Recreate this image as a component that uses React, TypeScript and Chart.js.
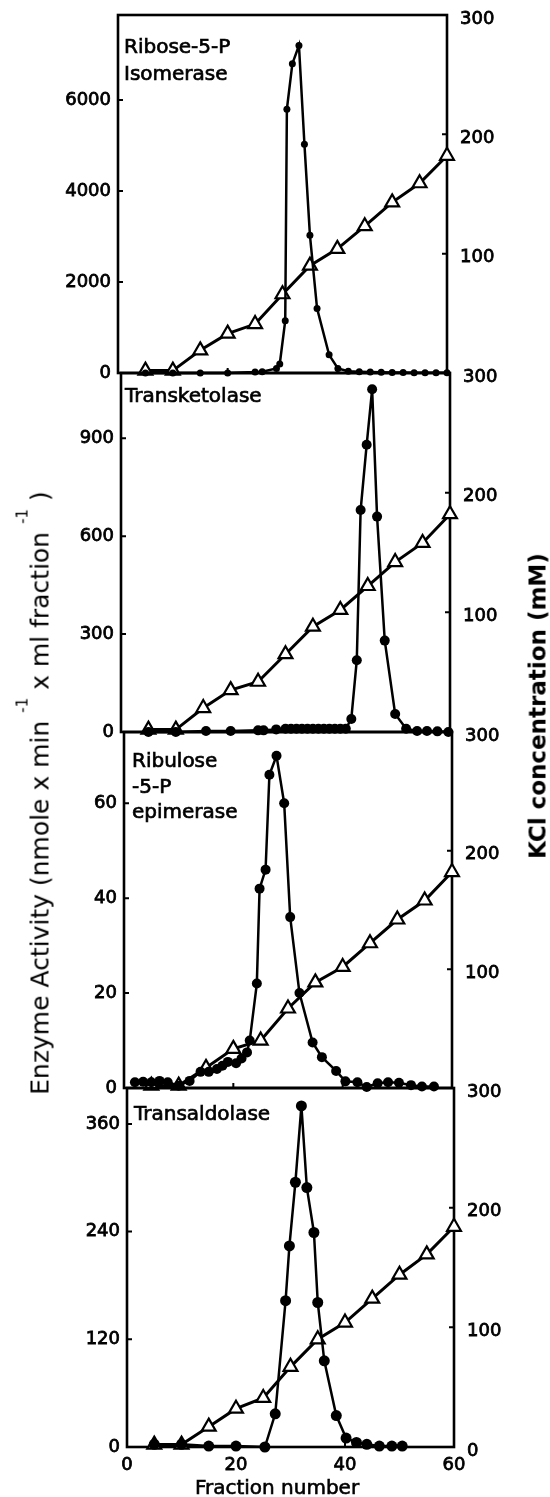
import React, { useEffect, useRef } from "react";
import { Chart, registerables } from "chart.js";

Chart.register(...registerables);

// ---------------- data ----------------
const FRACTION_TICKS = [0, 20, 40, 60];
const KCL_TICKS = [100, 200, 300];
const KCL_TICKS_LAST = [0, 100, 200, 300];

const KCL_FRACTIONS = [5, 10, 15, 20, 25, 30, 35, 40, 45, 50, 55, 60];
const KCL_ISOMERASE = [2, 2, 19, 33, 41, 66, 90, 104, 123, 143, 159, 182];
const KCL_TRANSKETOLASE = [2, 2, 20, 35, 42, 65, 88, 102, 122, 142, 158, 182];
const KCL_EPIMERASE = [2, 2, 17, 33, 40, 67, 89, 102, 122, 142, 158, 182];
const KCL_TRANSALDOLASE = [2, 2, 17, 32, 41, 67, 90, 104, 124, 144, 161, 184];

const ISOMERASE_FRACTIONS = [5, 10, 15, 20, 25, 26.3, 28.9, 29.5, 30.5, 30.8, 31.8, 33, 34, 35, 36.3, 38.5, 40.1, 42, 44, 46, 48, 50, 52, 54, 56, 58, 60];
const ISOMERASE_ACTIVITY = [0, 0, 0, 0, 20, 30, 100, 200, 1150, 5800, 6800, 7200, 5030, 3030, 1420, 400, 100, 40, 30, 20, 15, 10, 10, 5, 5, 5, 5];
const ISOMERASE_TICKS = [0, 2000, 4000, 6000];
const ISOMERASE_LABEL = ["Ribose-5-P", "Isomerase"];

const TRANSKETOLASE_FRACTIONS = [5, 10, 15.5, 20, 25, 26, 28.3, 30, 31, 32, 33, 34, 35, 36, 37, 38, 39, 40, 41, 42, 43, 43.7, 44.8, 45.8, 46.7, 48.1, 50, 52, 54, 55.8, 57.7, 59.7];
const TRANSKETOLASE_ACTIVITY = [0, 0, 3, 3, 5, 5, 8, 10, 10, 10, 10, 10, 10, 10, 10, 10, 10, 10, 10, 40, 220, 680, 880, 1050, 660, 280, 55, 10, 3, 3, 2, 0];
const TRANSKETOLASE_TICKS = [0, 300, 600, 900];
const TRANSKETOLASE_LABEL = ["Transketolase"];

const EPIMERASE_FRACTIONS = [2, 3.5, 5, 6.5, 8, 10, 12, 14, 15.5, 17, 18, 19, 20.5, 21.5, 22.5, 23, 24.3, 24.8, 25.9, 26.6, 27.9, 29.3, 30.4, 32.1, 34.5, 36.2, 38.8, 40.5, 42.7, 44.4, 46.4, 48.3, 50.3, 52.5, 54.5, 56.7];
const EPIMERASE_ACTIVITY = [1.2, 1.3, 1.2, 1.5, 1.2, 0.5, 1.5, 3.4, 3.4, 4, 4.7, 5.5, 5.2, 6.2, 7.5, 10, 22, 42, 46, 66, 70, 60, 36, 20, 9.6, 6.5, 3.6, 1.4, 1.2, 0.2, 1, 1.2, 1.1, 0.6, 0.3, 0.3];
const EPIMERASE_TICKS = [0, 20, 40, 60];
const EPIMERASE_LABEL = ["Ribulose", "-5-P", "epimerase"];

const TRANSALDOLASE_FRACTIONS = [5, 10, 15, 20, 25.3, 27.2, 29.1, 29.8, 30.9, 32, 33, 34.3, 35, 36.2, 38.4, 40.2, 42.1, 44, 46.3, 48.6, 50.5];
const TRANSALDOLASE_ACTIVITY = [3, 3, 1, 1, 0, 37, 163, 224, 295, 380, 289, 239, 161, 96, 35, 10, 5, 3, 1, 1, 1];
const TRANSALDOLASE_TICKS = [0, 120, 240, 360];
const TRANSALDOLASE_LABEL = ["Transaldolase"];

// ---------------- layout ----------------
const W = 550;
const H = 1497;
const PAD = 30;
const FONT = "'DejaVu Sans', sans-serif";

const PANELS = [
  { fx: ISOMERASE_FRACTIONS, fy: ISOMERASE_ACTIVITY, kcl: KCL_ISOMERASE, ticks: ISOMERASE_TICKS, max: 7870, label: ISOMERASE_LABEL,
    top: 15, bottom: 373, left: 118, right: 447, lx: 6, ly: [38, 65], r: 3.5 },
  { fx: TRANSKETOLASE_FRACTIONS, fy: TRANSKETOLASE_ACTIVITY, kcl: KCL_TRANSKETOLASE, ticks: TRANSKETOLASE_TICKS, max: 1100, label: TRANSKETOLASE_LABEL,
    top: 373, bottom: 732, left: 121, right: 450, lx: 4, ly: [29], r: 5 },
  { fx: EPIMERASE_FRACTIONS, fy: EPIMERASE_ACTIVITY, kcl: KCL_EPIMERASE, ticks: EPIMERASE_TICKS, max: 75, label: EPIMERASE_LABEL,
    top: 732, bottom: 1088, left: 124, right: 452, lx: 8, ly: [35, 61, 86], r: 5 },
  { fx: TRANSALDOLASE_FRACTIONS, fy: TRANSALDOLASE_ACTIVITY, kcl: KCL_TRANSALDOLASE, ticks: TRANSALDOLASE_TICKS, max: 400, label: TRANSALDOLASE_LABEL,
    top: 1088, bottom: 1447, left: 127, right: 454, lx: 7, ly: [32], r: 5.5 },
];

const toXY = (xs: number[], ys: number[]) => xs.map((x, i) => ({ x, y: ys[i] }));

function makePlugin(p: any) {
  return {
    id: "frameAndLabel",
    beforeDatasetsDraw(chart: any) {
      const { ctx, chartArea: a, scales } = chart;
      ctx.save();
      ctx.strokeStyle = "#000";
      ctx.lineWidth = 2.6;
      ctx.strokeRect(a.left, a.top, a.right - a.left, a.bottom - a.top);
      ctx.lineWidth = 2;
      ctx.beginPath();
      for (const t of scales.yL.ticks) {
        const y = scales.yL.getPixelForValue(t.value);
        ctx.moveTo(a.left, y);
        ctx.lineTo(a.left + 5, y);
      }
      for (const t of scales.yR.ticks) {
        const y = scales.yR.getPixelForValue(t.value);
        ctx.moveTo(a.right, y);
        ctx.lineTo(a.right - 5, y);
      }
      for (const v of FRACTION_TICKS) {
        const x = scales.x.getPixelForValue(v);
        ctx.moveTo(x, a.bottom);
        ctx.lineTo(x, a.bottom - 5);
      }
      ctx.stroke();
      ctx.fillStyle = "#000";
      ctx.font = `20px ${FONT}`;
      ctx.textAlign = "left";
      ctx.textBaseline = "alphabetic";
      ctx.lineWidth = 0.7;
      p.label.forEach((line: string, i: number) => {
        ctx.fillText(line, a.left + p.lx, a.top + p.ly[i]);
        ctx.strokeText(line, a.left + p.lx, a.top + p.ly[i]);
      });
      ctx.restore();
    },
  };
}

function Panel({ p, last }: { p: any; last: boolean }) {
  const ref = useRef<HTMLCanvasElement>(null);
  const canvasTop = p.top - PAD;
  const canvasH = last ? H - canvasTop : p.bottom - p.top + 2 * PAD;

  useEffect(() => {
    const tickFont = { family: FONT, size: 18 };
    const tickBase = { font: tickFont, color: "#000", textStrokeColor: "#000", textStrokeWidth: 0.8 };
    const chart = new Chart(ref.current as HTMLCanvasElement, {
      type: "line",
      data: {
        datasets: [
          {
            label: "KCl",
            data: toXY(KCL_FRACTIONS, p.kcl),
            yAxisID: "yR",
            borderColor: "#000",
            borderWidth: 3,
            pointStyle: "triangle",
            pointRadius: 8,
            pointBackgroundColor: "#fff",
            pointBorderColor: "#000",
            pointBorderWidth: 2.2,
            order: 1,
            clip: false,
          },
          {
            label: "Activity",
            data: toXY(p.fx, p.fy),
            yAxisID: "yL",
            borderColor: "#000",
            borderWidth: 2.5,
            pointStyle: "circle",
            pointRadius: p.r,
            pointBackgroundColor: "#000",
            pointBorderColor: "#000",
            pointBorderWidth: 0,
            order: 0,
            clip: false,
          },
        ],
      } as any,
      options: {
        responsive: false,
        animation: false,
        devicePixelRatio: 1,
        events: [],
        layout: { padding: { top: PAD, bottom: last ? 0 : PAD, left: 0, right: 0 } },
        plugins: { legend: { display: false }, tooltip: { enabled: false } },
        scales: {
          x: {
            type: "linear",
            min: 0,
            max: 60,
            display: last,
            grid: { display: false, drawTicks: false },
            border: { display: false },
            ticks: { ...tickBase, padding: 8, maxRotation: 0, autoSkip: false, callback: (v: any) => String(v) },
            afterBuildTicks: (s: any) => { s.ticks = FRACTION_TICKS.map((v) => ({ value: v })); },
            afterFit: (s: any) => { s.height = last ? H - p.bottom : 0; },
          },
          yL: {
            type: "linear",
            position: "left",
            min: 0,
            max: p.max,
            grid: { display: false, drawTicks: false },
            border: { display: false },
            ticks: { ...tickBase, padding: 7, callback: (v: any) => String(v) },
            afterBuildTicks: (s: any) => { s.ticks = p.ticks.map((v: number) => ({ value: v })); },
            afterFit: (s: any) => { s.width = p.left; },
          },
          yR: {
            type: "linear",
            position: "right",
            min: 0,
            max: 300,
            grid: { display: false, drawTicks: false },
            border: { display: false },
            ticks: { ...tickBase, padding: 13, labelOffset: 4, callback: (v: any) => String(v) },
            afterBuildTicks: (s: any) => { s.ticks = (last ? KCL_TICKS_LAST : KCL_TICKS).map((v) => ({ value: v })); },
            afterFit: (s: any) => { s.width = W - p.right; },
          },
        },
      } as any,
      plugins: [makePlugin(p)],
    });
    return () => chart.destroy();
  }, []);

  return (
    <canvas
      ref={ref}
      width={W}
      height={canvasH}
      style={{ position: "absolute", left: 0, top: canvasTop, width: W, height: canvasH }}
    />
  );
}

export default function App() {
  const rot = (cx: number, cy: number): React.CSSProperties => ({
    position: "absolute",
    left: cx,
    top: cy,
    transform: "translate(-50%, -50%) rotate(-90deg)",
    whiteSpace: "nowrap",
    lineHeight: 1,
    color: "#000",
    fontFamily: FONT,
  });
  const sup: React.CSSProperties = { fontSize: 15, position: "relative", top: -21 };
  return (
    <div style={{ position: "absolute", left: 0, top: 0, width: W, height: H, background: "#fff", overflow: "hidden" }}>
      {PANELS.map((p, i) => (
        <Panel key={i} p={p} last={i === PANELS.length - 1} />
      ))}
      <div style={{ ...rot(40, 793), fontSize: 25 }}>
        Enzyme Activity (nmole x min <span style={sup}>-1</span> x ml fraction <span style={sup}>-1</span> )
      </div>
      <div style={{ ...rot(538, 706), fontSize: 23, fontWeight: "bold" }}>KCl concentration (mM)</div>
      <div
        style={{
          position: "absolute",
          left: 277,
          top: 1487,
          transform: "translate(-50%, -50%)",
          whiteSpace: "nowrap",
          lineHeight: 1,
          fontFamily: FONT,
          fontSize: 20,
          color: "#000",
          WebkitTextStroke: "0.6px #000",
        }}
      >
        Fraction number
      </div>
    </div>
  );
}
